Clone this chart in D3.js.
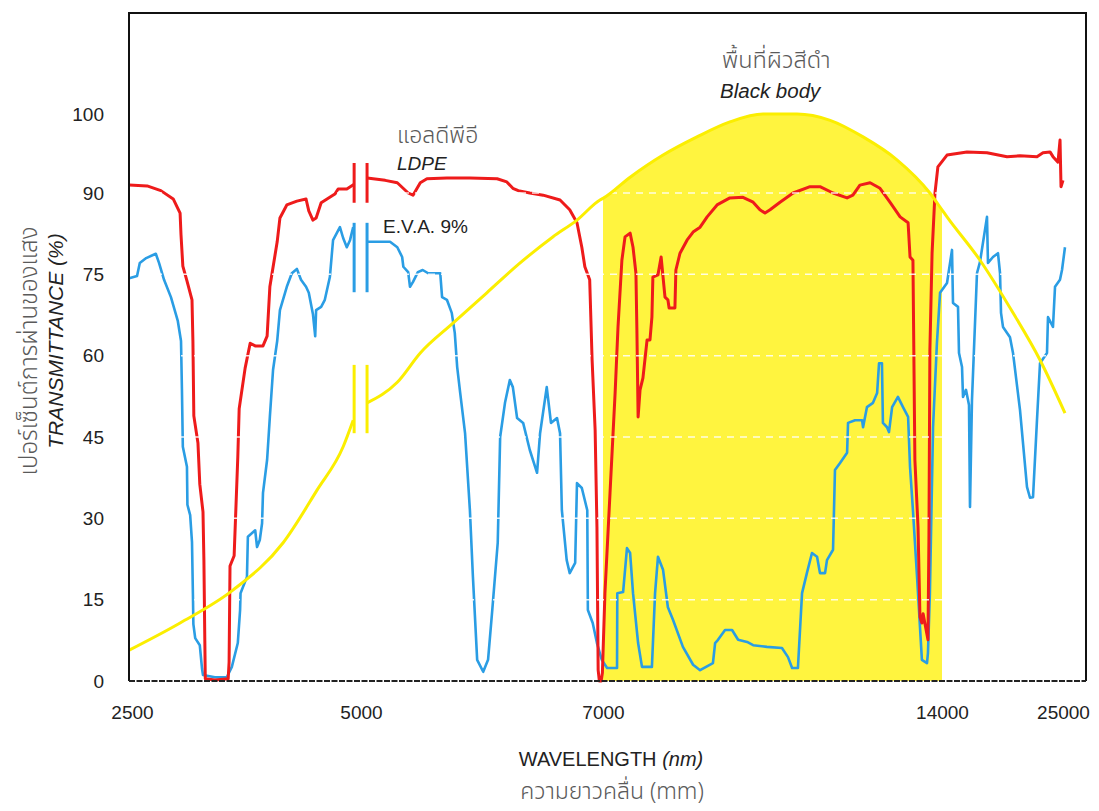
<!DOCTYPE html>
<html lang="th">
<head>
<meta charset="utf-8">
<title>Transmittance: LDPE / E.V.A. 9% / Black body</title>
<script src="https://cdn.jsdelivr.net/npm/d3@7"></script>
<style>
  body { margin: 0; background: #fff; }
  svg text { font-family: "Liberation Sans", Arial, Helvetica, sans-serif; fill: #222; }
  svg text.thai { font-family: "Noto Sans Thai", "Noto Sans Thai UI", "Loma", "Garuda", "Tlwg Typo", "Noto Sans", sans-serif; fill: #5a5a5a; font-weight: 300; }
</style>
</head>
<body>
<script>
// axis values
var xTicks = [2500, 5000, 7000, 14000, 25000];
var yTicks = [0, 15, 30, 45, 60, 75, 90, 100];
var gridValues = [15, 30, 45, 60, 75, 90];

// [wavelength nm, transmittance %], null = axis break
var ldpe = [
  [2470,91.0],[2665,90.9],[2815,90.3],[2950,88.9],[3025,86.3],[3035,82.3],[3055,76.5],[3100,73.8],[3155,70.3],[3165,62.7],
  [3175,48.9],[3220,43.9],[3240,36.3],[3275,31.2],[3285,22.3],[3295,7.4],[3300,0.4],[3405,0.2],[3550,0.4],[3560,3.5],
  [3570,21.2],[3615,23.1],[3655,41.3],[3670,50.2],[3735,57.7],[3790,62.3],[3845,61.8],[3930,61.8],[3975,63.6],[4005,72.7],
  [4085,81.0],[4115,85.4],[4190,87.8],[4300,88.5],[4400,88.9],[4430,86.7],[4475,85.0],[4510,85.4],[4565,88.2],[4715,89.8],
  [4750,90.5],[4845,90.5],[4925,91.1],
  null,
  [5050,91.9],[5200,91.6],[5300,91.3],[5390,90.0],[5430,89.6],[5490,91.3],[5545,91.8],[5710,91.9],[5900,91.9],[6125,91.8],
  [6205,91.4],[6255,90.6],[6300,90.3],[6395,90.0],[6505,89.6],[6645,88.7],[6725,86.9],[6785,84.5],[6825,80.0],[6850,76.4],
  [6890,74.0],[6910,59.2],[6935,46.3],[6950,28.4],[6960,2.0],[6970,0],[6985,0],[6995,1.5],[7040,16.2],[7145,34.7],
  [7250,53.1],[7310,65.3],[7390,77.6],[7455,81.9],[7560,82.6],[7620,80.0],[7680,75.2],[7700,64.7],[7725,48.7],[7765,53.7],
  [7825,55.9],[7910,62.9],[7970,62.9],[8010,67.1],[8030,74.5],[8135,74.9],[8200,78.2],[8240,74.5],[8280,70.8],[8340,70.3],
  [8365,68.8],[8485,68.8],[8505,75.8],[8590,78.9],[8735,81.3],[8860,82.8],[9005,83.7],[9150,85.6],[9355,87.8],[9620,89.1],
  [9890,89.2],[10100,88.3],[10240,86.9],[10345,86.3],[10450,86.9],[10655,88.3],[10925,90.0],[11275,90.8],[11480,90.8],[11750,90.0],
  [12040,89.1],[12160,89.6],[12305,91.0],[12515,91.3],[12720,90.6],[12925,88.3],[13135,85.6],[13300,84.5],[13340,78.2],[13400,77.6],
  [13440,40.8],[13505,28.4],[13545,11.8],[13585,10.7],[13610,12.4],[13710,7.6],[13730,26.0],[13750,61.0],[13795,78.9],[13855,90.0],
  [13915,93.3],[14455,94.8],[16275,95.2],[18090,95.1],[19910,94.6],[21090,94.7],[22635,94.6],[23180,95.1],[23820,95.2],[24090,94.6],
  [24545,93.9],[24730,96.7],[24820,90.8],[25000,91.6]
];

var eva = [
  [2470,74.3],[2555,74.7],[2585,77.1],[2655,78.0],[2760,78.8],[2795,77.1],[2850,74.0],[2925,70.8],[3000,66.4],[3035,62.7],
  [3045,53.9],[3055,43.2],[3100,39.5],[3105,32.5],[3135,30.6],[3155,25.6],[3165,16.0],[3170,10.5],[3190,7.9],[3240,6.6],
  [3265,2.2],[3275,1.1],[3405,0.7],[3535,0.7],[3590,2.6],[3655,7.0],[3680,13.1],[3685,16.2],[3755,19.2],[3765,26.6],
  [3845,27.8],[3865,24.7],[3895,26.0],[3920,29.1],[3930,34.7],[3975,40.8],[4005,48.7],[4040,57.4],[4085,62.7],[4115,68.4],
  [4190,72.7],[4245,75.2],[4300,76.0],[4345,74.0],[4400,72.7],[4430,71.6],[4475,67.7],[4500,63.6],[4510,68.4],[4565,69.0],
  [4605,70.3],[4660,74.5],[4695,81.3],[4770,83.7],[4805,81.7],[4845,80.0],[4880,81.3],[4915,83.7],
  null,
  [5050,81.0],[5155,81.0],[5240,81.0],[5300,80.0],[5340,78.2],[5350,76.4],[5390,75.4],[5405,72.7],[5430,73.6],[5470,75.4],
  [5510,75.8],[5555,75.2],[5655,75.2],[5670,70.8],[5710,70.3],[5750,67.9],[5775,64.2],[5795,57.9],[5820,53.1],[5860,45.7],
  [5900,31.5],[5925,19.2],[5960,3.9],[6010,1.7],[6050,3.9],[6085,13.1],[6130,25.5],[6150,45.0],[6190,51.3],[6230,55.5],
  [6255,54.2],[6290,48.5],[6340,47.6],[6395,42.6],[6455,38.4],[6480,45.7],[6535,54.2],[6570,47.6],[6620,48.5],[6645,45.7],
  [6660,31.5],[6700,22.3],[6725,19.9],[6770,21.8],[6785,36.5],[6825,35.6],[6870,31.5],[6875,13.1],[6915,10.7],[6950,7.0],
  [6990,3.9],[7085,2.4],[7290,2.4],[7295,16.2],[7415,16.4],[7495,24.5],[7560,23.6],[7620,16.2],[7725,7.0],[7805,2.6],
  [8010,2.6],[8075,16.2],[8135,22.9],[8240,20.5],[8340,13.6],[8445,11.3],[8650,6.3],[8860,3.0],[9005,2.0],[9270,3.3],
  [9315,7.0],[9375,7.6],[9520,9.4],[9665,9.4],[9790,7.6],[9975,7.2],[10100,6.6],[10385,6.3],[10695,6.1],[10820,4.4],
  [10905,2.4],[11025,2.4],[11110,16.2],[11210,19.9],[11315,23.6],[11420,22.9],[11480,19.9],[11585,19.9],[11625,22.3],[11750,24.2],
  [11790,38.9],[11895,40.2],[12040,42.1],[12060,47.6],[12205,48.1],[12350,48.1],[12370,46.8],[12450,50.5],[12575,51.3],[12660,53.1],
  [12700,58.6],[12760,58.6],[12780,47.6],[12865,46.8],[12905,45.9],[12970,50.5],[13090,52.4],[13195,50.5],[13300,48.7],[13340,39.5],
  [13400,31.5],[13485,19.2],[13585,3.9],[13690,3.3],[13710,5.2],[13750,16.2],[13815,46.8],[13895,62.3],[13960,71.6],[14455,73.4],
  [14910,79.5],[15000,69.7],[15455,69.0],[15545,60.5],[15820,57.9],[15910,52.4],[16180,53.7],[16455,50.9],[16545,32.1],[16725,51.8],
  [17180,75.2],[17455,77.3],[18090,85.6],[18180,77.1],[18635,78.2],[19090,78.9],[19275,75.2],[19365,67.9],[19545,65.3],[20180,63.4],
  [20455,60.5],[21090,50.0],[21725,35.8],[22000,33.8],[22275,33.9],[22635,48.1],[22910,58.6],[23545,60.5],[23635,67.1],[24090,65.3],
  [24275,72.7],[24725,74.0],[24910,75.8],[25180,80.0]
];

var blackBody = [
  [2470,5.7],[3025,10.7],[3605,16.8],[4150,25.5],[4520,35.2],[4805,43.2],[4915,48.1],
  null,
  [5050,51.3],[5300,55.1],[5490,60.5],[5760,66.0],[6040,71.6],[6315,77.1],[6585,81.9],[6785,85.0],[6975,88.7],[7000,89.0],
  [7560,92.0],[8240,94.8],[8940,97.1],[9620,99.0],[10305,100],[11005,100],[11690,99.2],[12370,97.1],[13070,94.2],[13750,90.0],
  [14000,86.9],[14455,85.6],[17455,77.6],[20455,67.9],[22910,59.2],[25180,49.4]
];

// shaded black body band
var bandRange = [7000, 14000];

// axis break at ~5000 nm: the two tick positions and the span of each series
var breakWl = [4925, 5050];
var breakLdpe = [88.2, 93.8];
var breakEva = [71.7, 84.5];
var breakBody = [45.7, 58.3];

var width = 1099, height = 811;
var plotLeft = 129, plotRight = 1086, plotTop = 13, plotBottom = 681;

var svg = d3.select("body").append("svg")
  .attr("width", width)
  .attr("height", height);

var x = d3.scaleLinear().domain(xTicks).range([132, 361, 603, 942, 1063]);
var y = d3.scaleLinear().domain([0, 90, 100]).range([plotBottom, 193, 114]);

var line = d3.line()
  .defined(function (d) { return d !== null; })
  .x(function (d) { return x(d[0]); })
  .y(function (d) { return y(d[1]); });

var smooth = d3.line()
  .defined(function (d) { return d !== null; })
  .curve(d3.curveMonotoneX)
  .x(function (d) { return x(d[0]); })
  .y(function (d) { return y(d[1]); });

// yellow band under the black body curve
var band = blackBody.filter(function (d) { return d && d[0] >= bandRange[0] && d[0] <= bandRange[1]; });
svg.append("path")
  .datum(band)
  .attr("d", d3.area().curve(d3.curveMonotoneX)
    .x(function (d) { return x(d[0]); })
    .y0(y(0))
    .y1(function (d) { return y(d[1]); }))
  .attr("fill", "#fff43f");

// E.V.A. and LDPE spectra
svg.append("path").datum(eva)
  .attr("d", line)
  .attr("fill", "none")
  .attr("stroke", "#2a9de4")
  .attr("stroke-width", 2.6)
  .attr("stroke-linejoin", "round");

svg.append("path").datum(ldpe)
  .attr("d", line)
  .attr("fill", "none")
  .attr("stroke", "#ee1b1b")
  .attr("stroke-width", 3)
  .attr("stroke-linejoin", "round");

// faint white dashed grid
svg.append("g").selectAll("line")
  .data(gridValues)
  .enter().append("line")
    .attr("x1", plotLeft).attr("x2", plotRight)
    .attr("y1", function (d) { return y(d); })
    .attr("y2", function (d) { return y(d); })
    .attr("stroke", "#fff")
    .attr("stroke-width", 1.5)
    .attr("stroke-dasharray", "7,6")
    .attr("opacity", 0.85);

svg.append("path").datum(blackBody)
  .attr("d", smooth)
  .attr("fill", "none")
  .attr("stroke", "#fbee00")
  .attr("stroke-width", 3);

// break marks
var breaks = [
  { span: breakLdpe, color: "#ee1b1b" },
  { span: breakEva, color: "#2a9de4" },
  { span: breakBody, color: "#fbee00" }
];
breaks.forEach(function (b) {
  svg.append("g").selectAll("line")
    .data(breakWl)
    .enter().append("line")
      .attr("x1", function (d) { return x(d); })
      .attr("x2", function (d) { return x(d); })
      .attr("y1", y(b.span[0]))
      .attr("y2", y(b.span[1]))
      .attr("stroke", b.color)
      .attr("stroke-width", 3);
});

// frame
svg.append("path")
  .attr("d", "M" + plotLeft + "," + plotBottom + "V" + plotTop + "H" + plotRight + "V" + plotBottom)
  .attr("fill", "none")
  .attr("stroke", "#111")
  .attr("stroke-width", 2);
svg.append("line")
  .attr("x1", plotLeft).attr("x2", plotRight)
  .attr("y1", plotBottom).attr("y2", plotBottom)
  .attr("stroke", "#222")
  .attr("stroke-width", 2)
  .attr("stroke-dasharray", "6,1.5");

// axes
var xAxis = svg.append("g")
  .attr("transform", "translate(0," + plotBottom + ")")
  .call(d3.axisBottom(x).tickValues(xTicks).tickSize(0).tickPadding(25).tickFormat(d3.format("d")));
xAxis.select(".domain").remove();

var yAxis = svg.append("g")
  .attr("transform", "translate(" + plotLeft + ",0)")
  .call(d3.axisLeft(y).tickValues(yTicks).tickSize(0).tickPadding(25));
yAxis.select(".domain").remove();

svg.selectAll(".tick text")
  .attr("font-family", "Liberation Sans, Arial, sans-serif")
  .attr("font-size", 19)
  .attr("fill", "#222");

// axis titles
svg.append("text")
  .attr("transform", "translate(37,351) rotate(-90)")
  .attr("class", "thai")
  .attr("text-anchor", "middle")
  .attr("font-size", 24)
  .text("เปอร์เซ็นต์การผ่านของแสง");

svg.append("text")
  .attr("transform", "translate(63,341) rotate(-90)")
  .attr("text-anchor", "middle")
  .attr("font-size", 21)
  .attr("font-style", "italic")
  .text("TRANSMITTANCE (%)");

var xt = svg.append("text")
  .attr("x", 611).attr("y", 766)
  .attr("text-anchor", "middle")
  .attr("font-size", 20);
xt.append("tspan").text("WAVELENGTH ");
xt.append("tspan").attr("font-style", "italic").text("(nm)");

svg.append("text")
  .attr("class", "thai")
  .attr("x", 612).attr("y", 799)
  .attr("text-anchor", "middle")
  .attr("font-size", 23)
  .text("ความยาวคลื่น (mm)");

// series labels
svg.append("text").attr("class", "thai")
  .attr("x", 397).attr("y", 143)
  .attr("font-size", 23)
  .text("แอลดีพีอี");
svg.append("text")
  .attr("x", 397).attr("y", 170)
  .attr("font-size", 19)
  .attr("font-style", "italic")
  .text("LDPE");
svg.append("text")
  .attr("x", 383).attr("y", 233)
  .attr("font-size", 19)
  .text("E.V.A. 9%");
svg.append("text").attr("class", "thai")
  .attr("x", 722).attr("y", 68)
  .attr("font-size", 23.5)
  .text("พื้นที่ผิวสีดำ");
svg.append("text")
  .attr("x", 720).attr("y", 98)
  .attr("font-size", 20.5)
  .attr("font-style", "italic")
  .text("Black body");
</script>
</body>
</html>
